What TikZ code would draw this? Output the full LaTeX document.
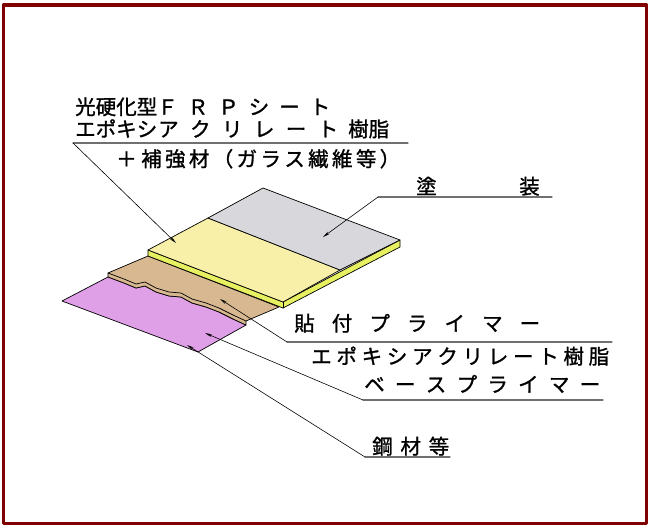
\documentclass[tikz,border=0pt]{standalone}
\usepackage{fontspec}
\newfontfamily\jpfont{Noto Sans CJK JP}[FakeBold=1.2]
\usetikzlibrary{arrows.meta}
\definecolor{yqqqqq}{rgb}{0.5019607843137255,0,0}
\definecolor{eqaqey}{rgb}{0.8784313725490196,0.6274509803921569,0.9098039215686274}
\definecolor{dybyzq}{rgb}{0.8470588235294118,0.7215686274509804,0.5647058823529412}
\definecolor{fyfqay}{rgb}{0.9725490196078431,0.9411764705882353,0.6588235294117647}
\definecolor{ewfqwq}{rgb}{0.9019607843137255,0.9411764705882353,0.3764705882352941}
\definecolor{dydydc}{rgb}{0.8470588235294118,0.8470588235294118,0.8627450980392157}
\definecolor{xqxqxq}{rgb}{0.4392156862745098,0.4392156862745098,0.4392156862745098}
\newcommand{\spread}[2]{\makebox[#1][s]{#2}}

\begin{document}
\begin{tikzpicture}[line cap=round,line join=round,>={Stealth[length=6pt,width=2.4pt]},x=0.03cm,y=-0.03cm,
		lbl/.style={anchor=base west,inner sep=0pt,font=\jpfont\fontsize{17.5pt}{20pt}\selectfont},
		uline/.style={line width=1pt,color=xqxqxq},
		lead/.style={line width=0.5pt,->}]
		\useasboundingbox (0,0) rectangle (649,528);
		\draw [line width=2.6pt,color=yqqqqq] (3.5,5) rectangle (646.5,523.5);
		% steel plate
		\filldraw [line width=0.6pt,fill=eqaqey] (62,301) -- (108,277) -- (124,283) -- (136,288) -- (145,286) -- (156,292) -- (169,296) -- (181,297) -- (192,303) -- (206,307) -- (219,312) -- (233,319) -- (246,325) -- (198,352) -- cycle;
		% bonding primer
		\filldraw [line width=0.6pt,fill=dybyzq] (108,273) -- (148,256) -- (279,307) -- (246,321) -- (246,325) -- (233,319) -- (219,312) -- (206,307) -- (192,303) -- (181,297) -- (169,296) -- (156,292) -- (145,286) -- (136,288) -- (124,283) -- (108,277) -- cycle;
		\draw [line width=0.6pt] (108,273) -- (124,279) -- (136,284) -- (145,282) -- (156,288) -- (169,292) -- (181,293) -- (192,299) -- (206,303) -- (219,308) -- (233,315) -- (246,321);
		% FRP sheet
		\filldraw [line width=0.6pt,fill=ewfqwq] (148,250) -- (283,302) -- (400,240) -- (400,247) -- (283,308) -- (148,256) -- cycle;
		\draw [line width=0.6pt] (283,302) -- (283,308);
		\filldraw [line width=0.6pt,fill=fyfqay] (148,250) -- (208,218) -- (340,270) -- (283,302) -- cycle;
		\filldraw [line width=0.6pt,fill=dydydc] (208,218) -- (263,188) -- (400,240) -- (340,270) -- cycle;
		% labels
		\node [lbl] (frpA) at (75,114.5) {光硬化型\spread{5.19cm}{Ｆ\hfil Ｒ\hfil Ｐ\hfil シ\hfil ー\hfil ト}};
		\node [lbl] (frpB) at (75,136.7) {エポキシ\hspace{0.03cm}\spread{5.4cm}{ア\hfil ク\hfil リ\hfil レ\hfil ー\hfil ト}\hspace{0.3cm}樹脂};
		\node [lbl] (frpC) at (116,166.5) {＋\hspace{0.135cm}\spread{7.77cm}{補\hfil 強\hfil 材\hfil （\hfil ガ\hfil ラ\hfil ス\hfil 繊\hfil 維\hfil 等\hfil ）}};
		\node [lbl] (paint) at (416,194) {塗\hspace{2.475cm}装};
		\node [lbl] (bondA) at (294,331) {\spread{7.38cm}{貼\hfil 付\hfil プ\hfil ラ\hfil イ\hfil マ\hfil ー}};
		\node [lbl] (bondB) at (311,364) {\spread{8.94cm}{エ\hfil ポ\hfil キ\hfil シ\hfil ア\hfil ク\hfil リ\hfil レ\hfil ー\hfil ト\hfil 樹\hfil 脂}};
		\node [lbl] (base) at (364,392) {\spread{7.08cm}{ベ\hfil ー\hfil ス\hfil プ\hfil ラ\hfil イ\hfil マ\hfil ー}};
		\node [lbl] (steel) at (372,454) {\spread{2.31cm}{鋼\hfil 材\hfil 等}};
		% underlines and leaders
		\coordinate (frpL) at (73,143);
		\coordinate (frpR) at (408,143);
		\coordinate (frpT) at (176,243);
		\coordinate (paintL) at (378,197);
		\coordinate (paintR) at (552,197);
		\coordinate (paintT) at (323,237);
		\coordinate (bondL) at (287,342);
		\coordinate (bondR) at (612,342);
		\coordinate (bondT) at (220,299);
		\coordinate (baseL) at (363,400);
		\coordinate (baseR) at (603,400);
		\coordinate (baseT) at (205,333);
		\coordinate (steelL) at (365,457);
		\coordinate (steelR) at (450,457);
		\coordinate (steelT) at (187,345);
		\draw [uline] (frpL)-- (frpR);
		\draw [uline] (paintL)-- (paintR);
		\draw [uline] (bondL)-- (bondR);
		\draw [uline] (baseL)-- (baseR);
		\draw [uline] (steelL)-- (steelR);
		\draw [lead] (frpL)-- (frpT);
		\draw [lead] (paintL)-- (paintT);
		\draw [lead] (bondL)-- (bondT);
		\draw [lead] (baseL)-- (baseT);
		\draw [lead] (steelL)-- (steelT);
\end{tikzpicture}
\end{document}
